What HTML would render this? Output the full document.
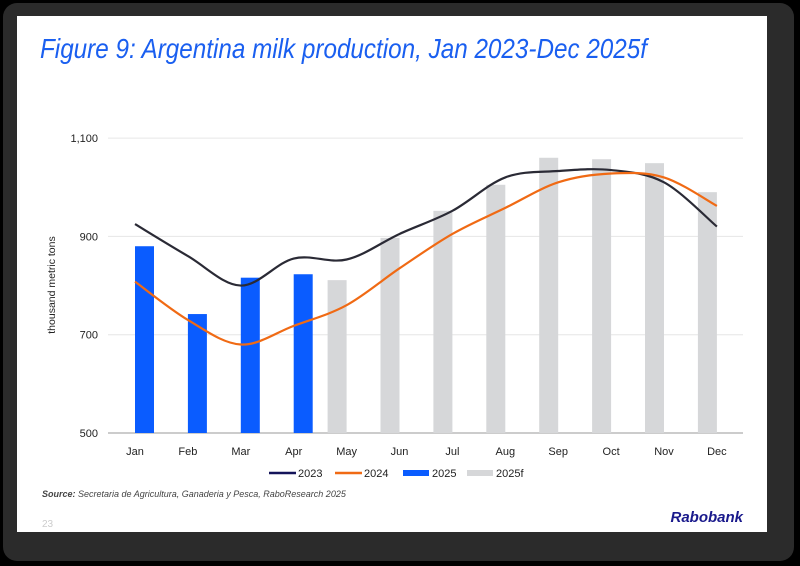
<!DOCTYPE html>
<html><head><meta charset="utf-8"><style>
body{margin:0;width:800px;height:566px;background:#000;overflow:hidden;font-family:"Liberation Sans",sans-serif}
#frame{position:absolute;left:3px;top:3px;width:791px;height:558px;background:#2b2b2b;border-radius:14px}
#card{position:absolute;left:17px;top:16px;width:750px;height:516px;background:#fff}
</style></head><body>
<div id="frame"></div>
<div id="card"></div>
<svg id="chart" width="800" height="566" style="position:absolute;left:0;top:0">
<text x="40" y="58" font-size="28" font-style="italic" fill="#1a5ff0" textLength="607" lengthAdjust="spacingAndGlyphs">Figure 9: Argentina milk production, Jan 2023-Dec 2025f</text>
<text transform="translate(55,285) rotate(-90)" text-anchor="middle" font-size="10.5" fill="#222">thousand metric tons</text>
<g id="grid"></g><g id="bars"></g><g id="lines"></g><g id="xlabels"></g>
<g font-size="11" fill="#222">
<line x1="269" y1="473" x2="296" y2="473" stroke="#14145a" stroke-width="2.5"/><text x="298" y="477">2023</text>
<line x1="335" y1="473" x2="362" y2="473" stroke="#f06a14" stroke-width="2.5"/><text x="364" y="477">2024</text>
<rect x="403" y="470" width="26" height="6" fill="#0a5cff"/><text x="432" y="477">2025</text>
<rect x="467" y="470" width="26" height="6" fill="#d6d7d9"/><text x="496" y="477">2025f</text>
</g>
<text x="42" y="497" font-size="9" font-style="italic" fill="#444"><tspan font-weight="bold">Source:</tspan> Secretaria de Agricultura, Ganaderia y Pesca, RaboResearch 2025</text>
<text x="42" y="527" font-size="10" fill="#ccc">23</text>
<text x="743" y="522" text-anchor="end" font-size="15" font-weight="bold" font-style="italic" fill="#1a1a8c">Rabobank</text>
</svg>
<script>
const months=["Jan","Feb","Mar","Apr","May","Jun","Jul","Aug","Sep","Oct","Nov","Dec"];
const yTicks=[500,700,900,1100];
const yTickLabels=["500","700","900","1,100"];
const s2025=[880,742,816,823,null,null,null,null,null,null,null,null];
const s2025f=[null,null,null,null,811,897,952,1005,1060,1057,1049,990];
const s2023=[925,860,800,855,853,905,952,1020,1033,1035,1010,920];
const s2024=[808,730,680,718,760,835,905,958,1010,1028,1020,962];
const NS="http://www.w3.org/2000/svg";
const x=i=>135+i*52.9;
const y=v=>433-(v-500)/200*98.3;
function mk(t,a,p){const e=document.createElementNS(NS,t);for(const k in a)e.setAttribute(k,a[k]);p.appendChild(e);return e;}
const grid=document.getElementById('grid');
yTicks.forEach((t,i)=>{
 const l=mk('line',{x1:108,x2:743,y1:y(t),y2:y(t),stroke:i==0?'#999':'#e6e6e6','stroke-width':1},grid);
 
 
 const tx=mk('text',{x:98,y:y(t)+4,'text-anchor':'end','font-size':11,fill:'#222'},grid);
 tx.textContent=yTickLabels[i];
 
 
});
const bars=document.getElementById('bars');
months.forEach((m,i)=>{
 if(s2025[i]!=null){const r=mk('rect',{x:x(i),y:y(s2025[i]),width:19,height:y(500)-y(s2025[i]),fill:'#0a5cff'},bars);
  
  }
 if(s2025f[i]!=null){const r=mk('rect',{x:x(i)-19,y:y(s2025f[i]),width:19,height:y(500)-y(s2025f[i]),fill:'#d6d7d9'},bars);
  
  }
 const t=mk('text',{x:x(i),y:455,'text-anchor':'middle','font-size':11,fill:'#222'},document.getElementById('xlabels'));
 t.textContent=m;
 
 
});
function smooth(vals){
 const p=vals.map((v,i)=>[x(i),y(v)]);
 let d='M'+p[0][0]+','+p[0][1];
 for(let i=0;i<p.length-1;i++){
  const p0=p[Math.max(i-1,0)],p1=p[i],p2=p[i+1],p3=p[Math.min(i+2,p.length-1)];
  const c1=[p1[0]+(p2[0]-p0[0])/6,p1[1]+(p2[1]-p0[1])/6],c2=[p2[0]-(p3[0]-p1[0])/6,p2[1]-(p3[1]-p1[1])/6];
  d+=' C'+c1+' '+c2+' '+p2;
 }
 return d;
}
const lines=document.getElementById('lines');
const l23=mk('path',{d:smooth(s2023),fill:'none',stroke:'#2a2a35','stroke-width':2.2},lines);


const l24=mk('path',{d:smooth(s2024),fill:'none',stroke:'#f06a14','stroke-width':2.2},lines);


</script>
</body></html>
